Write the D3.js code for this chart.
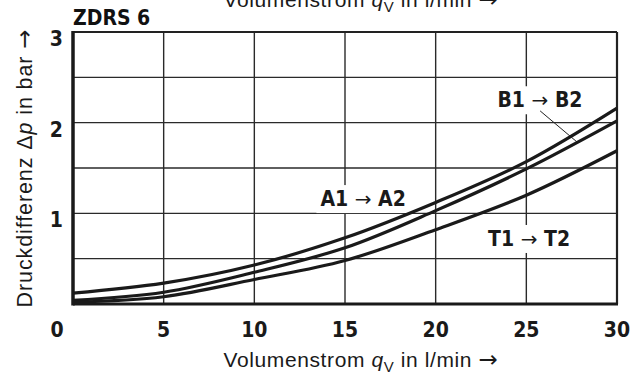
<!DOCTYPE html>
<html>
<head>
<meta charset="utf-8">
<script src="https://cdn.jsdelivr.net/npm/d3@7"></script>
<style>
  body { margin: 0; background: #fff; }
  svg { display: block; }
</style>
</head>
<body>
<div id="chart"></div>
<script>
(function() {
  // flow rate q_V in l/min
  const flowValues = [0, 5, 10, 15, 20, 25, 30];
  // pressure difference in bar
  const seriesA = [0.12, 0.23, 0.43, 0.73, 1.12, 1.57, 2.16];
  const seriesB = [0.04, 0.13, 0.35, 0.62, 1.03, 1.49, 2.02];
  const seriesT = [0.02, 0.08, 0.27, 0.48, 0.82, 1.20, 1.69];

  const xTickLabels = ["0", "5", "10", "15", "20", "25", "30"];
  const yTickValues = [1, 2, 3];
  const yGridValues = [0.5, 1, 1.5, 2, 2.5];

  const width = 638;
  const height = 378;
  const margin = { top: 32, right: 21, bottom: 74, left: 73 };

  const condensed = "'Liberation Sans Narrow', 'DejaVu Sans Condensed', 'Liberation Sans', sans-serif";
  const plain = "'Liberation Sans', Arial, sans-serif";
  const arrowFont = "'DejaVu Sans', sans-serif";

  const svg = d3.select("#chart")
    .append("svg")
    .attr("width", width)
    .attr("height", height);

  const x = d3.scaleLinear().domain([0, 30]).range([margin.left, width - margin.right]);
  const y = d3.scaleLinear().domain([0, 3]).range([height - margin.bottom, margin.top]);

  const grid = svg.append("g")
    .attr("stroke", "#2a2a2a")
    .attr("stroke-width", 1.4);

  grid.selectAll("line.vx")
    .data(flowValues.slice(1, -1))
    .enter()
    .append("line")
    .attr("x1", d => x(d))
    .attr("x2", d => x(d))
    .attr("y1", y(0))
    .attr("y2", y(3));

  grid.selectAll("line.hy")
    .data(yGridValues)
    .enter()
    .append("line")
    .attr("x1", x(0))
    .attr("x2", x(30))
    .attr("y1", d => y(d))
    .attr("y2", d => y(d));

  // frame
  svg.append("line")
    .attr("x1", x(0)).attr("x2", x(30))
    .attr("y1", y(3)).attr("y2", y(3))
    .attr("stroke", "#222").attr("stroke-width", 2);
  svg.append("line")
    .attr("x1", x(30)).attr("x2", x(30))
    .attr("y1", y(0)).attr("y2", y(3))
    .attr("stroke", "#222").attr("stroke-width", 2.2);

  const curveSeries = [
    { name: "A", values: seriesA },
    { name: "B", values: seriesB },
    { name: "T", values: seriesT }
  ];

  const line = d3.line()
    .x((d, i) => x(flowValues[i]))
    .y(d => y(d))
    .curve(d3.curveCatmullRom.alpha(0.5));

  // label backgrounds and labels
  const labels = [
    { a: "A1", b: "A2", q: 16.0, p: 1.08 },
    { a: "B1", b: "B2", q: 25.75, p: 2.17 },
    { a: "T1", b: "T2", q: 25.15, p: 0.64 }
  ];

  const labelGroup = svg.append("g");

  labels.forEach(l => {
    const t = labelGroup.append("text")
      .attr("x", x(l.q))
      .attr("y", y(l.p))
      .attr("text-anchor", "middle")
      .attr("font-family", condensed)
      .attr("font-size", 21)
      .attr("font-weight", "bold")
      .attr("fill", "#1a1a1a");
    t.append("tspan").text(l.a + " ");
    t.append("tspan").attr("font-weight", "normal").attr("font-family", arrowFont)
      .attr("font-size", 20).text("\u2192");
    t.append("tspan").text(" " + l.b);
    const bb = t.node().getBBox();
    labelGroup.insert("rect", "text")
      .attr("x", bb.x - 4)
      .attr("y", bb.y - 2)
      .attr("width", bb.width + 8)
      .attr("height", bb.height + 4)
      .attr("fill", "#fff");
  });

  // leader for B1 -> B2
  svg.append("line")
    .attr("x1", x(25.76)).attr("y1", y(2.13))
    .attr("x2", x(27.8)).attr("y2", y(1.786))
    .attr("stroke", "#222")
    .attr("stroke-width", 1);

  svg.append("g")
    .selectAll("path")
    .data(curveSeries)
    .enter()
    .append("path")
    .attr("d", d => line(d.values))
    .attr("fill", "none")
    .attr("stroke", "#1a1a1a")
    .attr("stroke-width", 3.2);

  // thick left and bottom axes
  svg.append("line")
    .attr("x1", x(0)).attr("x2", x(30) + 1)
    .attr("y1", y(0)).attr("y2", y(0))
    .attr("stroke", "#1a1a1a").attr("stroke-width", 3);
  svg.append("line")
    .attr("x1", x(0)).attr("x2", x(0))
    .attr("y1", y(0) + 1.5).attr("y2", y(3) - 1)
    .attr("stroke", "#1a1a1a").attr("stroke-width", 3.5);

  // tick labels
  svg.append("g")
    .selectAll("text")
    .data(flowValues)
    .enter()
    .append("text")
    .attr("x", (d, i) => i === 0 ? x(d) - 16 : x(d))
    .attr("y", y(0) + 33)
    .attr("text-anchor", "middle")
    .attr("font-family", condensed)
    .attr("font-size", 21)
    .attr("font-weight", "bold")
    .attr("fill", "#1a1a1a")
    .text((d, i) => xTickLabels[i]);

  svg.append("g")
    .selectAll("text")
    .data(yTickValues)
    .enter()
    .append("text")
    .attr("x", x(0) - 10)
    .attr("y", d => y(d) + 14)
    .attr("text-anchor", "end")
    .attr("font-family", condensed)
    .attr("font-size", 21)
    .attr("font-weight", "bold")
    .attr("fill", "#1a1a1a")
    .text(d => d);

  // title
  svg.append("text")
    .attr("x", x(0))
    .attr("y", 25)
    .attr("font-family", condensed)
    .attr("font-size", 21)
    .attr("font-weight", "bold")
    .attr("fill", "#111")
    .text("ZDRS 6");

  function xTitle(baseline) {
    const t = svg.append("text")
      .attr("x", 361)
      .attr("y", baseline)
      .attr("text-anchor", "middle")
      .attr("font-family", plain)
      .attr("font-size", 21)
      .attr("letter-spacing", 0.6)
      .attr("fill", "#1a1a1a");
    t.append("tspan").text("Volumenstrom ");
    t.append("tspan").attr("font-style", "italic").text("q");
    t.append("tspan").attr("font-size", 15).attr("dy", 5).text("V");
    t.append("tspan").attr("dy", -5).text(" in l/min ");
    t.append("tspan").attr("font-family", arrowFont).attr("font-size", 23).text("\u2192");
  }
  xTitle(367);
  xTitle(7);

  const yt = svg.append("text")
    .attr("transform", `translate(32, 168) rotate(-90)`)
    .attr("text-anchor", "middle")
    .attr("font-family", plain)
    .attr("font-size", 21.5)
    .attr("letter-spacing", 0.9)
    .attr("fill", "#1a1a1a");
  yt.append("tspan").text("Druckdifferenz \u0394");
  yt.append("tspan").attr("font-style", "italic").text("p");
  yt.append("tspan").text(" in bar ");
  yt.append("tspan").attr("font-family", arrowFont).attr("font-size", 23).text("\u2192");
})();
</script>
</body>
</html>
